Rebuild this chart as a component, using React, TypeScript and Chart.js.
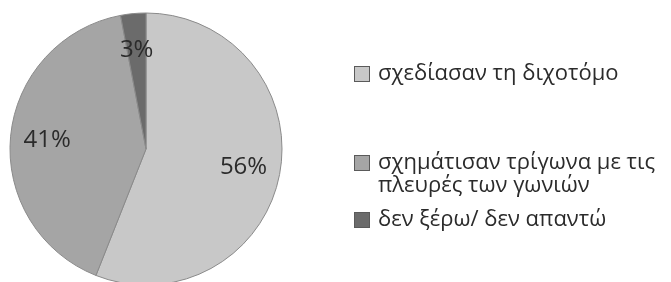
import React, { useEffect, useRef } from "react";
import { Chart, registerables } from "chart.js";

Chart.register(...registerables);

const labels: (string | string[])[] = [
  "σχεδίασαν τη διχοτόμο",
  ["σχημάτισαν τρίγωνα με τις", "πλευρές των γωνιών"],
  "δεν ξέρω/ δεν απαντώ",
];
const values = [56, 41, 3];
const colors = ["#c8c8c8", "#a5a5a5", "#6b6b6b"];

const FONT = "'Open Sans', 'Noto Sans', sans-serif";
const TEXT_COLOR = "#2b2b2b";

const percentLabels = {
  id: "percentLabels",
  afterDatasetsDraw(chart: any) {
    const { ctx } = chart;
    const meta = chart.getDatasetMeta(0);
    ctx.save();
    ctx.font = `24px ${FONT}`;
    ctx.fillStyle = TEXT_COLOR;
    ctx.textAlign = "center";
    ctx.textBaseline = "middle";
    meta.data.forEach((arc: any, i: number) => {
      const { x, y, startAngle, endAngle, outerRadius } = arc.getProps(
        ["x", "y", "startAngle", "endAngle", "outerRadius"],
        true
      );
      const mid = (startAngle + endAngle) / 2;
      const r = outerRadius * 0.73;
      ctx.fillText(`${values[i]}%`, x + Math.cos(mid) * r, y + Math.sin(mid) * r);
    });
    ctx.restore();
  },
};

const customLegend = {
  id: "customLegend",
  afterDraw(chart: any) {
    const { ctx } = chart;
    const boxX = 354;
    const textX = 378;
    const box = 16;
    const lineH = 23;
    const firstY = 74;
    const gaps = [89, 34];
    ctx.save();
    ctx.font = `22px ${FONT}`;
    ctx.textBaseline = "middle";
    ctx.textAlign = "left";
    let y = firstY;
    labels.forEach((lab, i) => {
      const lines = Array.isArray(lab) ? lab : [lab];
      ctx.fillStyle = colors[i];
      ctx.fillRect(boxX, y - box / 2, box, box);
      ctx.strokeStyle = "#5a5a5a";
      ctx.lineWidth = 1;
      ctx.strokeRect(boxX + 0.5, y - box / 2 + 0.5, box - 1, box - 1);
      ctx.fillStyle = TEXT_COLOR;
      lines.forEach((ln, j) => ctx.fillText(ln, textX, y + j * lineH));
      y += (lines.length - 1) * lineH + (gaps[i] ?? 0);
    });
    ctx.restore();
  },
};

export default function App() {
  const ref = useRef<HTMLCanvasElement>(null);
  useEffect(() => {
    document.body.style.margin = "0";
    const chart = new Chart(ref.current!, {
      type: "pie",
      data: {
        labels: labels as any,
        datasets: [
          {
            data: values,
            backgroundColor: colors,
            borderColor: "#8a8a8a",
            borderWidth: 1,
            radius: 136,
          },
        ],
      },
      options: {
        responsive: false,
        animation: false,
        layout: { padding: { left: 0, right: 379, top: 16, bottom: 0 } },
        plugins: {
          legend: { display: false },
          tooltip: { enabled: false },
        },
      },
      plugins: [percentLabels, customLegend],
    });
    return () => chart.destroy();
  }, []);
  return (
    <div style={{ width: 671, height: 282, background: "#fff" }}>
      <canvas ref={ref} width={671} height={282} style={{ display: "block" }} />
    </div>
  );
}
